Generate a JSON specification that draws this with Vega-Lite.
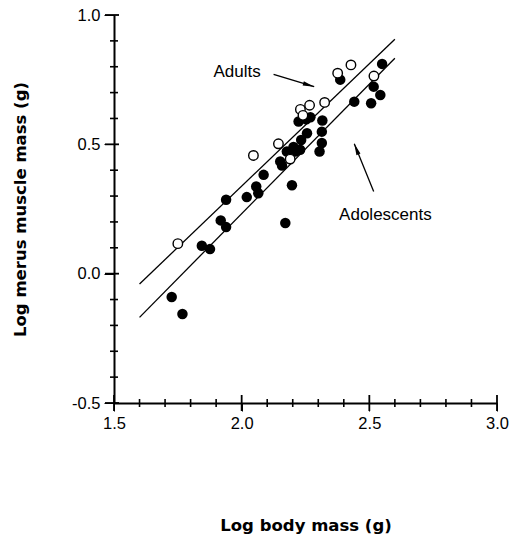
{
  "$schema": "https://vega.github.io/schema/vega-lite/v6.json",
  "autosize": "none",
  "width": 383,
  "height": 388,
  "padding": {"left": 114, "top": 15, "right": 13, "bottom": 137},
  "background": "white",
  "config": {"view": {"stroke": null}},
  "datasets": {
    "points": [
      {"x": 1.726, "y": -0.090, "group": "Adolescents"},
      {"x": 1.768, "y": -0.156, "group": "Adolescents"},
      {"x": 1.844, "y": 0.108, "group": "Adolescents"},
      {"x": 1.876, "y": 0.095, "group": "Adolescents"},
      {"x": 1.918, "y": 0.206, "group": "Adolescents"},
      {"x": 1.939, "y": 0.180, "group": "Adolescents"},
      {"x": 1.939, "y": 0.286, "group": "Adolescents"},
      {"x": 2.020, "y": 0.296, "group": "Adolescents"},
      {"x": 2.057, "y": 0.337, "group": "Adolescents"},
      {"x": 2.065, "y": 0.311, "group": "Adolescents"},
      {"x": 2.086, "y": 0.382, "group": "Adolescents"},
      {"x": 2.151, "y": 0.434, "group": "Adolescents"},
      {"x": 2.158, "y": 0.418, "group": "Adolescents"},
      {"x": 2.171, "y": 0.196, "group": "Adolescents"},
      {"x": 2.177, "y": 0.472, "group": "Adolescents"},
      {"x": 2.197, "y": 0.342, "group": "Adolescents"},
      {"x": 2.203, "y": 0.490, "group": "Adolescents"},
      {"x": 2.210, "y": 0.472, "group": "Adolescents"},
      {"x": 2.229, "y": 0.479, "group": "Adolescents"},
      {"x": 2.233, "y": 0.517, "group": "Adolescents"},
      {"x": 2.223, "y": 0.588, "group": "Adolescents"},
      {"x": 2.253, "y": 0.597, "group": "Adolescents"},
      {"x": 2.256, "y": 0.543, "group": "Adolescents"},
      {"x": 2.269, "y": 0.605, "group": "Adolescents"},
      {"x": 2.305, "y": 0.472, "group": "Adolescents"},
      {"x": 2.314, "y": 0.505, "group": "Adolescents"},
      {"x": 2.314, "y": 0.549, "group": "Adolescents"},
      {"x": 2.316, "y": 0.592, "group": "Adolescents"},
      {"x": 2.386, "y": 0.750, "group": "Adolescents"},
      {"x": 2.441, "y": 0.665, "group": "Adolescents"},
      {"x": 2.507, "y": 0.659, "group": "Adolescents"},
      {"x": 2.517, "y": 0.723, "group": "Adolescents"},
      {"x": 2.543, "y": 0.691, "group": "Adolescents"},
      {"x": 2.550, "y": 0.811, "group": "Adolescents"},
      {"x": 1.750, "y": 0.116, "group": "Adults"},
      {"x": 2.046, "y": 0.457, "group": "Adults"},
      {"x": 2.144, "y": 0.502, "group": "Adults"},
      {"x": 2.190, "y": 0.443, "group": "Adults"},
      {"x": 2.230, "y": 0.635, "group": "Adults"},
      {"x": 2.240, "y": 0.612, "group": "Adults"},
      {"x": 2.266, "y": 0.651, "group": "Adults"},
      {"x": 2.325, "y": 0.662, "group": "Adults"},
      {"x": 2.376, "y": 0.775, "group": "Adults"},
      {"x": 2.428, "y": 0.807, "group": "Adults"},
      {"x": 2.518, "y": 0.764, "group": "Adults"}
    ],
    "fits": [
      {"x": 1.6, "y": -0.040, "group": "Adults"},
      {"x": 2.6, "y": 0.906, "group": "Adults"},
      {"x": 1.6, "y": -0.169, "group": "Adolescents"},
      {"x": 2.6, "y": 0.833, "group": "Adolescents"}
    ],
    "labels": [
      {"x": 1.982, "y": 0.780, "text": "Adults"},
      {"x": 2.563, "y": 0.228, "text": "Adolescents"}
    ],
    "arrows": [
      {"label": "Adults", "x": 2.284, "y": 0.723, "x2": 2.125, "y2": 0.770},
      {"label": "Adolescents", "x": 2.441, "y": 0.502, "x2": 2.517, "y2": 0.318}
    ],
    "xticks": [
      {"x": 1.5, "y": -0.5}, {"x": 1.6, "y": -0.5}, {"x": 1.7, "y": -0.5}, {"x": 1.8, "y": -0.5},
      {"x": 1.9, "y": -0.5}, {"x": 2.0, "y": -0.5}, {"x": 2.1, "y": -0.5}, {"x": 2.2, "y": -0.5},
      {"x": 2.3, "y": -0.5}, {"x": 2.4, "y": -0.5}, {"x": 2.5, "y": -0.5}, {"x": 2.6, "y": -0.5},
      {"x": 2.7, "y": -0.5}, {"x": 2.8, "y": -0.5}, {"x": 2.9, "y": -0.5}, {"x": 3.0, "y": -0.5}
    ],
    "yticks": [
      {"x": 1.5, "y": -0.5}, {"x": 1.5, "y": -0.4}, {"x": 1.5, "y": -0.3}, {"x": 1.5, "y": -0.2},
      {"x": 1.5, "y": -0.1}, {"x": 1.5, "y": 0.0}, {"x": 1.5, "y": 0.1}, {"x": 1.5, "y": 0.2},
      {"x": 1.5, "y": 0.3}, {"x": 1.5, "y": 0.4}, {"x": 1.5, "y": 0.5}, {"x": 1.5, "y": 0.6},
      {"x": 1.5, "y": 0.7}, {"x": 1.5, "y": 0.8}, {"x": 1.5, "y": 0.9}, {"x": 1.5, "y": 1.0}
    ]
  },
  "encoding": {
    "x": {
      "field": "x",
      "type": "quantitative",
      "scale": {"domain": [1.5, 3.0], "nice": false, "zero": false},
      "axis": {
        "title": "Log body mass (g)",
        "values": [1.5, 2.0, 2.5, 3.0],
        "format": ".1f",
        "labelOverlap": false,
        "labelFlush": false,
        "grid": false,
        "ticks": true,
        "tickSize": 8,
        "tickColor": "black",
        "domainColor": "black",
        "domainWidth": 2,
        "labelPadding": 4,
        "labelFont": "Liberation Sans",
        "labelFontSize": 16.5,
        "labelColor": "black",
        "titleFont": "DejaVu Sans",
        "titleFontWeight": "bold",
        "titleFontSize": 16.5,
        "titleColor": "black",
        "titleBaseline": "alphabetic",
        "titleAnchor": "middle",
        "titleX": 191.5,
        "titleY": 127
      }
    },
    "y": {
      "field": "y",
      "type": "quantitative",
      "scale": {"domain": [-0.5, 1.0], "nice": false, "zero": false},
      "axis": {
        "title": "Log merus muscle mass (g)",
        "values": [-0.5, 0, 0.5, 1.0],
        "labelExpr": "datum.value < 0 ? '-' + format(-datum.value, '.1f') : format(datum.value, '.1f')",
        "labelOverlap": false,
        "labelFlush": false,
        "grid": false,
        "ticks": true,
        "tickSize": 10,
        "tickColor": "black",
        "domainColor": "black",
        "domainWidth": 2,
        "labelPadding": 4,
        "labelFont": "Liberation Sans",
        "labelFontSize": 16.5,
        "labelColor": "black",
        "titleFont": "DejaVu Sans",
        "titleFontWeight": "bold",
        "titleFontSize": 16.5,
        "titleColor": "black",
        "titleAngle": -90,
        "titleBaseline": "middle",
        "titleAnchor": "middle",
        "titleX": -94,
        "titleY": 194
      }
    }
  },
  "layer": [
    {
      "data": {"name": "xticks"},
      "transform": [{"filter": "abs(datum.x*2 - round(datum.x*2)) > 0.001"}],
      "mark": {"type": "rule", "color": "black", "strokeWidth": 1.6, "yOffset": 4, "y2Offset": -4},
      "encoding": {"y2": {"datum": -0.5}}
    },
    {
      "data": {"name": "xticks"},
      "transform": [{"filter": "abs(datum.x*2 - round(datum.x*2)) <= 0.001"}],
      "mark": {"type": "rule", "color": "black", "strokeWidth": 1.8, "yOffset": 8, "y2Offset": -8},
      "encoding": {"y2": {"datum": -0.5}}
    },
    {
      "data": {"name": "yticks"},
      "transform": [{"filter": "abs(datum.y*2 - round(datum.y*2)) > 0.001"}],
      "mark": {"type": "rule", "color": "black", "strokeWidth": 1.6, "xOffset": -4, "x2Offset": 4},
      "encoding": {"x2": {"datum": 1.5}}
    },
    {
      "data": {"name": "yticks"},
      "transform": [{"filter": "abs(datum.y*2 - round(datum.y*2)) <= 0.001"}],
      "mark": {"type": "rule", "color": "black", "strokeWidth": 1.8, "xOffset": -9, "x2Offset": 5},
      "encoding": {"x2": {"datum": 1.5}}
    },
    {
      "data": {"name": "fits"},
      "mark": {"type": "line", "color": "black", "strokeWidth": 1.3},
      "encoding": {"detail": {"field": "group"}}
    },
    {
      "data": {"name": "points"},
      "transform": [{"filter": "datum.group === 'Adolescents'"}],
      "mark": {"type": "point", "shape": "circle", "filled": true, "fill": "black", "stroke": null, "size": 110, "opacity": 1}
    },
    {
      "data": {"name": "points"},
      "transform": [{"filter": "datum.group === 'Adults'"}],
      "mark": {"type": "point", "shape": "circle", "filled": false, "fill": "white", "fillOpacity": 1, "stroke": "black", "strokeWidth": 1.4, "size": 90, "opacity": 1}
    },
    {
      "data": {"name": "arrows"},
      "mark": {"type": "rule", "color": "black", "strokeWidth": 1.3},
      "encoding": {"x2": {"field": "x2"}, "y2": {"field": "y2"}}
    },
    {
      "data": {"name": "arrows"},
      "transform": [{"filter": "datum.label === 'Adults'"}],
      "mark": {"type": "point", "shape": "M0,0L-0.38,2L0.38,2Z", "filled": true, "fill": "black", "stroke": null, "size": 130, "angle": 106.3, "opacity": 1}
    },
    {
      "data": {"name": "arrows"},
      "transform": [{"filter": "datum.label === 'Adolescents'"}],
      "mark": {"type": "point", "shape": "M0,0L-0.38,2L0.38,2Z", "filled": true, "fill": "black", "stroke": null, "size": 130, "angle": 338.4, "opacity": 1}
    },
    {
      "data": {"name": "labels"},
      "mark": {"type": "text", "font": "Liberation Sans", "fontSize": 17, "color": "black", "align": "center", "baseline": "middle"},
      "encoding": {"text": {"field": "text"}}
    }
  ]
}
